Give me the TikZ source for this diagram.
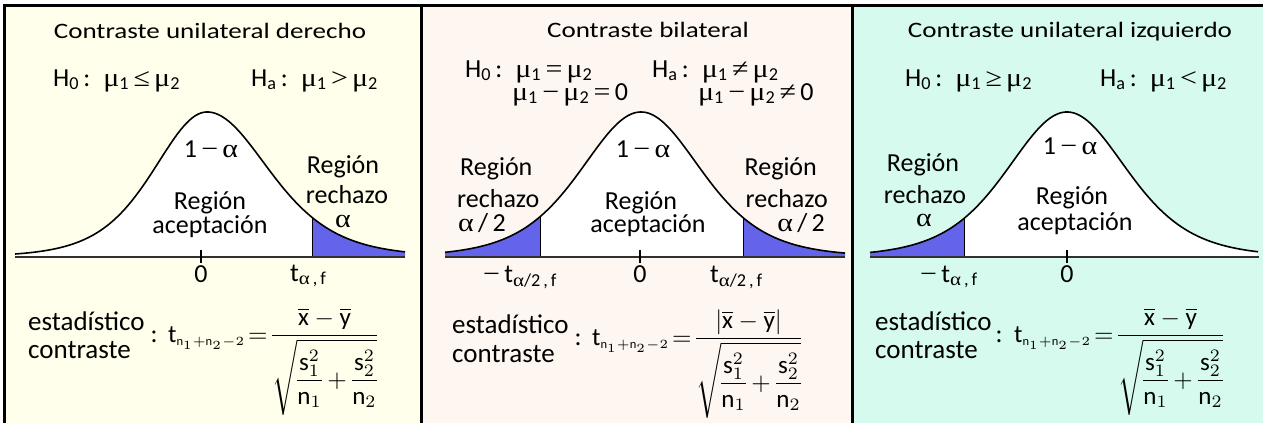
\documentclass[tikz,border=0pt]{standalone}
\usepackage{fontspec}
\setmainfont{Carlito}
\newfontfamily\ttlfont[FakeStretch=1.23]{Carlito}
\newfontfamily\grfont[FakeStretch=1.15]{Liberation Serif}
\usepackage{amsmath}
\usepackage{graphicx}
\newcommand\gk[1]{{\grfont #1}}
\newcommand\mmu{\gk{μ}}
\newcommand\aal{\gk{α}}
\newcommand\lsb[1]{\textsubscript{#1}}
\newcommand\tform[1]{\scalebox{2.5}{$\nulldelimiterspace=0pt
  \text{t}_{\scriptscriptstyle\text{n}_1+\text{n}_2-2}\mathrel{\mkern-3mu=\mkern-1.5mu}\dfrac{#1}{\sqrt{\dfrac{\text{s}_1^2}{\text{n}_1}+\dfrac{\text{s}_2^2}{\text{n}_2}}}$}}
\definecolor{bgA}{HTML}{FFFFEB}
\definecolor{bgB}{HTML}{FEF6F0}
\definecolor{bgC}{HTML}{D6FBEE}
\definecolor{rej}{HTML}{6464EA}
\definecolor{axisc}{HTML}{303030}
\begin{document}
\begin{tikzpicture}[x=1pt,y=-1pt,
  declare function={tcv(\x,\c,\p,\q)=145*exp(-3.5*ln(1+((\x-\c)/((\x<\c)?\p:\q))^2/6));},
  ttl/.style={font=\ttlfont\fontsize{22}{26}\selectfont,inner sep=0pt,anchor=base},
  body/.style={font=\fontsize{26}{28}\selectfont,inner sep=0pt,anchor=base},
  hyp/.style={font=\fontsize{26}{28}\selectfont,inner sep=0pt,anchor=base west},
  form/.style={font=\fontsize{10}{12}\selectfont,inner sep=0pt,anchor=base west},
  stat/.style={font=\fontsize{27}{29}\selectfont,inner sep=0pt,anchor=base west},
  curve/.style={line width=1.6pt,black},
  axisl/.style={line width=2.6pt,axisc},
  tickl/.style={line width=2.4pt,black},
  cut/.style={line width=1pt,black},
  border/.style={line width=3pt,black}]
\useasboundingbox (0,0) rectangle (1263,423);
\fill[white] (0,0) rectangle (1263,423);
\fill[bgA] (4,5) rectangle (421,423);
\fill[bgB] (421,5) rectangle (852,423);
\fill[bgC] (852,5) rectangle (1263,423);

% ---------- panel 1 : right tail ----------
\fill[white] (15,257) -- plot[domain=15:405,samples=160] (\x,{257-tcv(\x,207,55,64)}) -- (405,257) -- cycle;
\fill[rej] (312,257) -- plot[domain=312:405,samples=60] (\x,{257-tcv(\x,207,55,64)}) -- (405,257) -- cycle;
\draw[curve] plot[domain=15:405,samples=160] (\x,{257-tcv(\x,207,55,64)});
\draw[cut] (312,257) -- (312,{257-tcv(312,207,55,64)});
\draw[axisl] (15,257) -- (405,257);
\draw[tickl] (201,250) -- (201,263);

% ---------- panel 2 : two tails ----------
\fill[white] (445,257) -- plot[domain=445:845,samples=160] (\x,{257-tcv(\x,641,62,62)}) -- (845,257) -- cycle;
\fill[rej] (445,257) -- plot[domain=445:540,samples=60] (\x,{257-tcv(\x,641,62,62)}) -- (540,257) -- cycle;
\fill[rej] (743,257) -- plot[domain=743:845,samples=60] (\x,{257-tcv(\x,641,62,62)}) -- (845,257) -- cycle;
\draw[curve] plot[domain=445:845,samples=160] (\x,{257-tcv(\x,641,62,62)});
\draw[cut] (540,257) -- (540,{257-tcv(540,641,62,62)});
\draw[cut] (743,257) -- (743,{257-tcv(743,641,62,62)});
\draw[axisl] (445,257) -- (845,257);
\draw[tickl] (640,250) -- (640,263);

% ---------- panel 3 : left tail ----------
\fill[white] (870,257) -- plot[domain=870:1258,samples=160] (\x,{257-tcv(\x,1067,62,62)}) -- (1258,257) -- cycle;
\fill[rej] (870,257) -- plot[domain=870:964,samples=60] (\x,{257-tcv(\x,1067,62,62)}) -- (964,257) -- cycle;
\draw[curve] plot[domain=870:1258,samples=160] (\x,{257-tcv(\x,1067,62,62)});
\draw[cut] (964,257) -- (964,{257-tcv(964,1067,62,62)});
\draw[axisl] (870,257) -- (1259,257);
\draw[tickl] (1067,250) -- (1067,263);

% ---------- borders ----------
\draw[border] (4,423) -- (4,5) -- (1263,5);
\draw[border] (421,5) -- (421,423);
\draw[border] (852,5) -- (852,423);

% ---------- panel 1 texts ----------
\node[ttl] (t1) at (210,38) {Contraste unilateral derecho};
\node[hyp] (h1a) at (53,86) {H\lsb{0}\,:\enspace\mmu\lsb{1}\,\gk{≤}\,\mmu\lsb{2}};
\node[hyp] (h1b) at (251,86) {H\lsb{a}\,:\enspace\mmu\lsb{1}\,\gk{>}\,\mmu\lsb{2}};
\node[body] (p1one) at (211,157) {1\,\gk{−}\,\aal};
\node[body] (p1ra) at (210,209) {Región};
\node[body] (p1rb) at (210,233) {aceptación};
\node[body] (p1xa) at (343,173) {Región};
\node[body] (p1xb) at (347,203) {rechazo};
\node[body] (p1xc) at (343,227) {\aal};
\node[body] (p1zero) at (201,282) {0};
\node[hyp] (p1t) at (290,281) {t\lsb{\aal\,,\,f}};
\node[stat] (p1s1) at (28,330) {estadístico};
\node[stat] (p1s2) at (28,358) {contraste};
\node[body] (p1col) at (154,342) {:};
\node[form] (p1f) at (168,342) {\tform{\overline{\text{x}}-\overline{\text{y}}}};

% ---------- panel 2 texts ----------
\node[ttl] (t2) at (648,37) {Contraste bilateral};
\node[hyp] (h2a) at (465,77) {H\lsb{0}\,:\enspace\mmu\lsb{1}\,\gk{=}\,\mmu\lsb{2}};
\node[hyp] (h2b) at (512,100) {\mmu\lsb{1}\,\gk{−}\,\mmu\lsb{2}\,\gk{=}\,0};
\node[hyp] (h2c) at (652,77) {H\lsb{a}\,:\enspace\mmu\lsb{1}\,\gk{≠}\,\mmu\lsb{2}};
\node[hyp] (h2d) at (698,100) {\mmu\lsb{1}\,\gk{−}\,\mmu\lsb{2}\,\gk{≠}\,0};
\node[body] (p2one) at (643,157) {1\,\gk{−}\,\aal};
\node[body] (p2ra) at (641,209) {Región};
\node[body] (p2rb) at (648,232) {aceptación};
\node[hyp] (p2la) at (460,175) {Región};
\node[hyp] (p2lb) at (457,207) {rechazo};
\node[hyp] (p2lc) at (458,231) {\aal\,/\,2};
\node[body,anchor=base east] (p2ra2) at (817,175) {Región};
\node[body,anchor=base east] (p2rb2) at (828,207) {rechazo};
\node[body,anchor=base east] (p2rc2) at (825,231) {\aal\,/\,2};
\node[hyp] (p2tm) at (483,282) {\gk{−}\,t\lsb{\aal/2\,,\,f}};
\node[body] (p2zero) at (640,282) {0};
\node[hyp] (p2tp) at (710,282) {t\lsb{\aal/2\,,\,f}};
\node[stat] (p2s1) at (452,333) {estadístico};
\node[stat] (p2s2) at (452,362) {contraste};
\node[body] (p2col) at (578,345) {:};
\node[form] (p2f) at (592,345) {\tform{\left|\overline{\text{x}}-\overline{\text{y}}\right|}};

% ---------- panel 3 texts ----------
\node[ttl] (t3) at (1070,37) {Contraste unilateral izquierdo};
\node[hyp] (h3a) at (905,86) {H\lsb{0}\,:\enspace\mmu\lsb{1}\,\gk{≥}\,\mmu\lsb{2}};
\node[hyp] (h3b) at (1100,86) {H\lsb{a}\,:\enspace\mmu\lsb{1}\,\gk{<}\,\mmu\lsb{2}};
\node[body] (p3one) at (1070,154) {1\,\gk{−}\,\aal};
\node[body] (p3ra) at (1072,204) {Región};
\node[body] (p3rb) at (1075,230) {aceptación};
\node[body] (p3xa) at (923,171) {Región};
\node[body] (p3xb) at (925,203) {rechazo};
\node[body] (p3xc) at (924,226) {\aal};
\node[hyp] (p3tm) at (920,282) {\gk{−}\,t\lsb{\aal\,,\,f}};
\node[body] (p3zero) at (1067,282) {0};
\node[stat] (p3s1) at (875,330) {estadístico};
\node[stat] (p3s2) at (875,358) {contraste};
\node[body] (p3col) at (999,342) {:};
\node[form] (p3f) at (1014,342) {\tform{\overline{\text{x}}-\overline{\text{y}}}};
\end{tikzpicture}
\end{document}
